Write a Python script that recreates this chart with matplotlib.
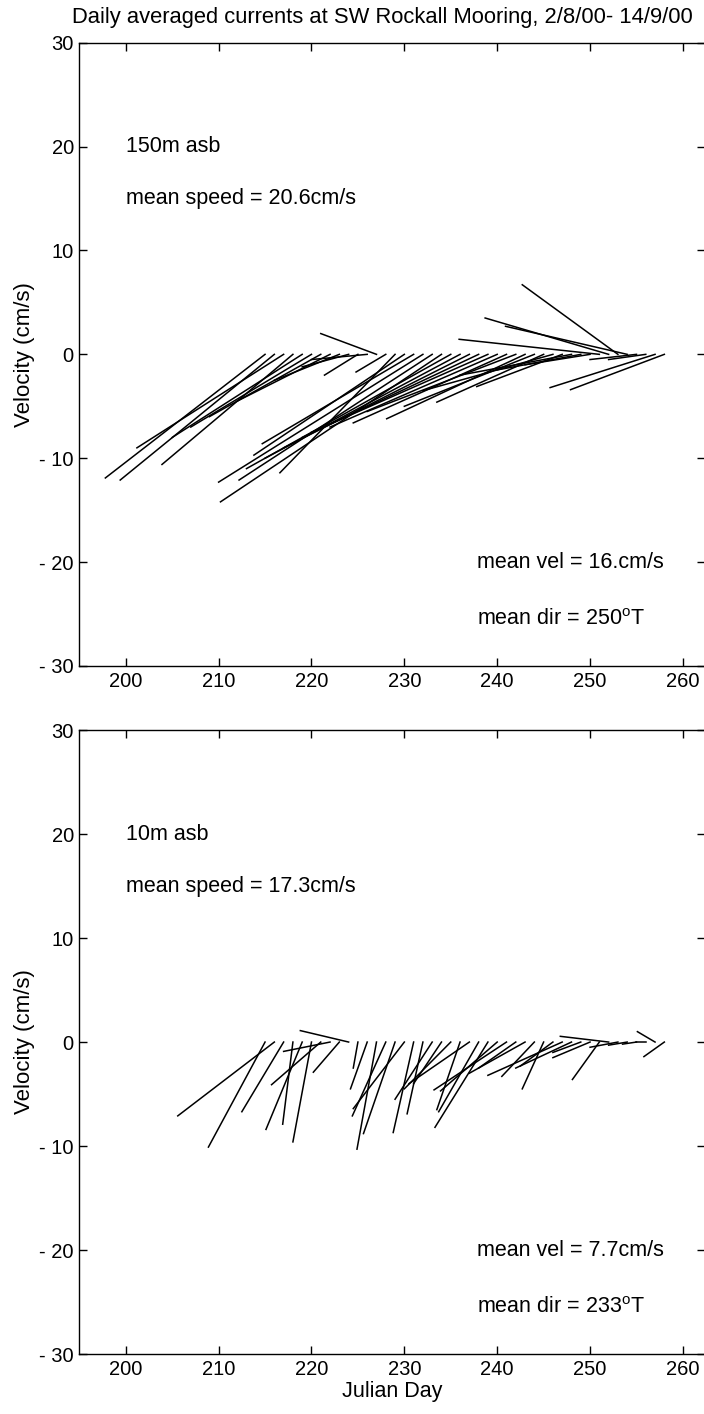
import numpy as np
import matplotlib
matplotlib.use('Agg')
import matplotlib.pyplot as plt

plt.rcParams['font.family'] = ['Liberation Sans', 'DejaVu Sans']
plt.rcParams['mathtext.fontset'] = 'custom'
plt.rcParams['mathtext.rm'] = 'Liberation Sans'

days = np.arange(215, 259)

# 150m asb: east (u) and north (v) daily mean velocity, cm/s
u_150 = [-17.2, -16.6, -15.8, -14.1, -14.0, -13.0, -12.0, -10.0, -7.0, -5.0,
         -3.6, -6.0, -6.0, -3.2, -12.4, -16.2, -16.3, -22.0, -20.8, -23.8,
         -22.0, -21.0, -20.0, -19.0, -19.0, -18.0, -16.5, -16.0, -14.9, -14.0,
         -11.5, -14.0, -9.2, -12.0, -9.0, -7.0, -15.1, -13.3, -10.3, -13.1,
         -5.0, -4.0, -11.3, -10.1]
v_150 = [-11.9, -12.1, -9.0, -10.6, -8.0, -7.0, -6.0, -4.5, -2.5, -1.2,
         -2.0, -0.5, 2.0, -1.7, -11.4, -9.7, -8.6, -12.3, -12.1, -14.2,
         -11.0, -10.0, -9.0, -8.0, -7.5, -7.0, -6.6, -5.5, -6.2, -5.0,
         -4.6, -3.5, -3.1, -2.0, -1.5, -1.0, 1.45, 3.5, 6.7, 2.7,
         -0.5, -0.5, -3.2, -3.4]

# 10m asb
u_10 = [-6.1, -10.4, -4.5, -1.1, -3.9, -2.0, -5.3, -5.0, -2.8, -5.2,
        -0.5, -1.8, -2.1, -3.6, -3.4, -5.5, -2.2, -1.7, -4.0, -3.0,
        -5.0, -2.5, -6.5, -4.3, -5.7, -6.1, -7.8, -4.0, -6.0, -3.5,
        -2.3, -3.5, -8.0, -6.0, -3.0, -4.0, -2.9, -5.2, -3.0, -2.0,
        -1.5, -1.0, -1.9, -2.2]
v_10 = [-10.1, -7.1, -6.7, -7.9, -8.4, -9.6, -4.1, -0.9, -2.9, 1.1,
        -2.5, -4.5, -10.3, -7.1, -8.8, -6.4, -8.7, -6.9, -5.5, -4.0,
        -4.5, -6.5, -4.0, -6.7, -8.2, -4.7, -4.6, -2.5, -3.0, -3.3,
        -4.5, -2.3, -3.2, -2.5, -1.0, -1.5, -3.6, 0.55, -0.5, -0.3,
        -0.2, 0.0, 1.0, -1.4]

labels = ['150m asb', '10m asb']
speeds = ['mean speed = 20.6cm/s', 'mean speed = 17.3cm/s']
mean_vel = ['mean vel = 16.cm/s', 'mean vel = 7.7cm/s']
mean_dir = ['mean dir = 250$^{\\rm o}$T', 'mean dir = 233$^{\\rm o}$T']

yticks = [-30, -20, -10, 0, 10, 20, 30]
ytick_labels = ['- 30', '- 20', '- 10', '0', '10', '20', '30']
xticks = [200, 210, 220, 230, 240, 250, 260]

fig = plt.figure(figsize=(7.04, 14.14), dpi=100)
boxes = [[0.1127, 0.529, 0.889, 0.4408], [0.1127, 0.0424, 0.889, 0.4413]]
series = [(u_150, v_150), (u_10, v_10)]

for i in range(2):
    ax = fig.add_axes(boxes[i])
    u, v = series[i]
    for d, uu, vv in zip(days, u, v):
        ax.plot([d, d + uu], [0, vv], color='black', lw=1.1)
    ax.set_xlim(195, 262.4)
    ax.set_ylim(-30, 30)
    ax.set_xticks(xticks)
    ax.set_yticks(yticks)
    ax.set_yticklabels(ytick_labels)
    ax.tick_params(direction='in', length=6, width=1, top=True, right=True,
                   labelsize=14.5, pad=4)
    for s in ax.spines.values():
        s.set_linewidth(1)
    ax.set_ylabel('Velocity (cm/s)', fontsize=16, labelpad=3)
    ax.text(200, 20, labels[i], fontsize=15.5, va='center')
    ax.text(200, 15, speeds[i], fontsize=15.5, va='center')
    ax.text(237.8, -20, mean_vel[i], fontsize=15.5, va='center')
    ax.text(237.8, -25.5, mean_dir[i], fontsize=15.5, va='center')
    if i == 1:
        ax.set_xlabel('Julian Day', fontsize=15.5, labelpad=2)

fig.text(0.543, 1 - 18 / 1414, 'Daily averaged currents at SW Rockall Mooring, 2/8/00- 14/9/00',
         fontsize=15.8, ha='center', va='center')

plt.savefig('out.png', dpi=100)
